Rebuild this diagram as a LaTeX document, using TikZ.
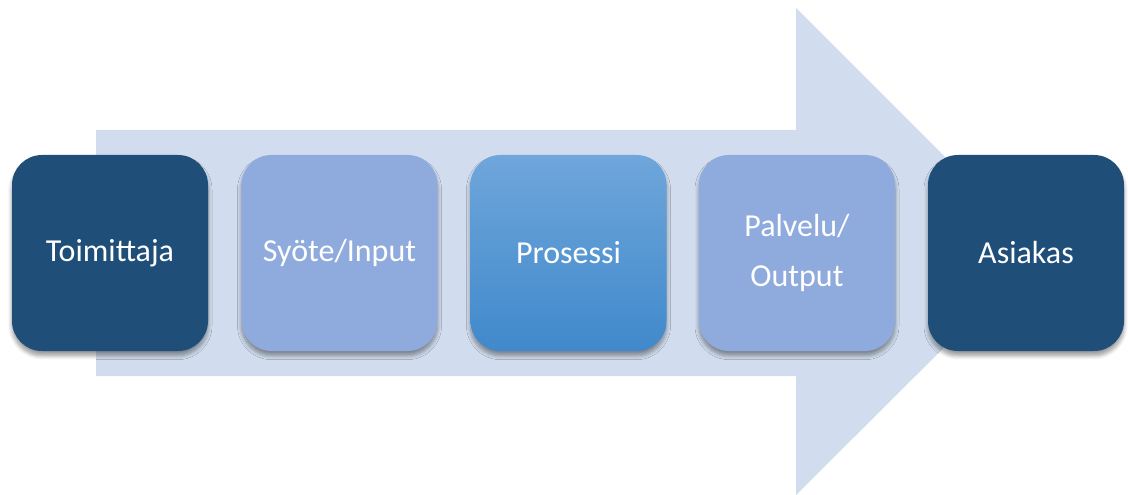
\documentclass[tikz,border=0pt]{standalone}
\usepackage{fontspec}
\setmainfont{Carlito}
\usetikzlibrary{shadows.blur}
\definecolor{arrowbg}{RGB}{209,221,238}
\definecolor{darkbox}{RGB}{31,78,121}
\definecolor{lightbox}{RGB}{143,170,220}
\definecolor{procTop}{RGB}{111,166,219}
\definecolor{procBot}{RGB}{64,137,203}
\tikzset{
  stepbox/.style={rounded corners=22.5pt, minimum width=147pt, minimum height=147pt,
    inner sep=0pt, text=white, align=center,
    font=\fontsize{24}{37}\selectfont,
    blur shadow={shadow xshift=0pt, shadow yshift=-3.5pt, shadow blur steps=6, shadow opacity=40, shadow blur radius=3pt}},
  darkstep/.style={stepbox, fill=darkbox},
  lightstep/.style={stepbox, fill=lightbox},
  procstep/.style={stepbox, top color=procTop, bottom color=procBot},
}
\begin{document}
\begin{tikzpicture}[x=0.75pt,y=-0.75pt]
\useasboundingbox (0,0) rectangle (1128,495);
% big arrow
\fill[arrowbg] (96,130) -- (796,130) -- (796,8) -- (1040,252) -- (796,495) -- (796,376) -- (96,376) -- cycle;
% boxes
\node[darkstep]  (toim) at (110,253) {Toimittaja};
\node[lightstep] (syote) at (339.5,253) {Syöte/Input};
\node[procstep]  (pros) at (568.5,253) {Prosessi};
\node[lightstep] (palv) at (797,253) {Palvelu/\\Output};
\node[darkstep]  (asia) at (1026,253) {Asiakas};
\end{tikzpicture}
\end{document}
